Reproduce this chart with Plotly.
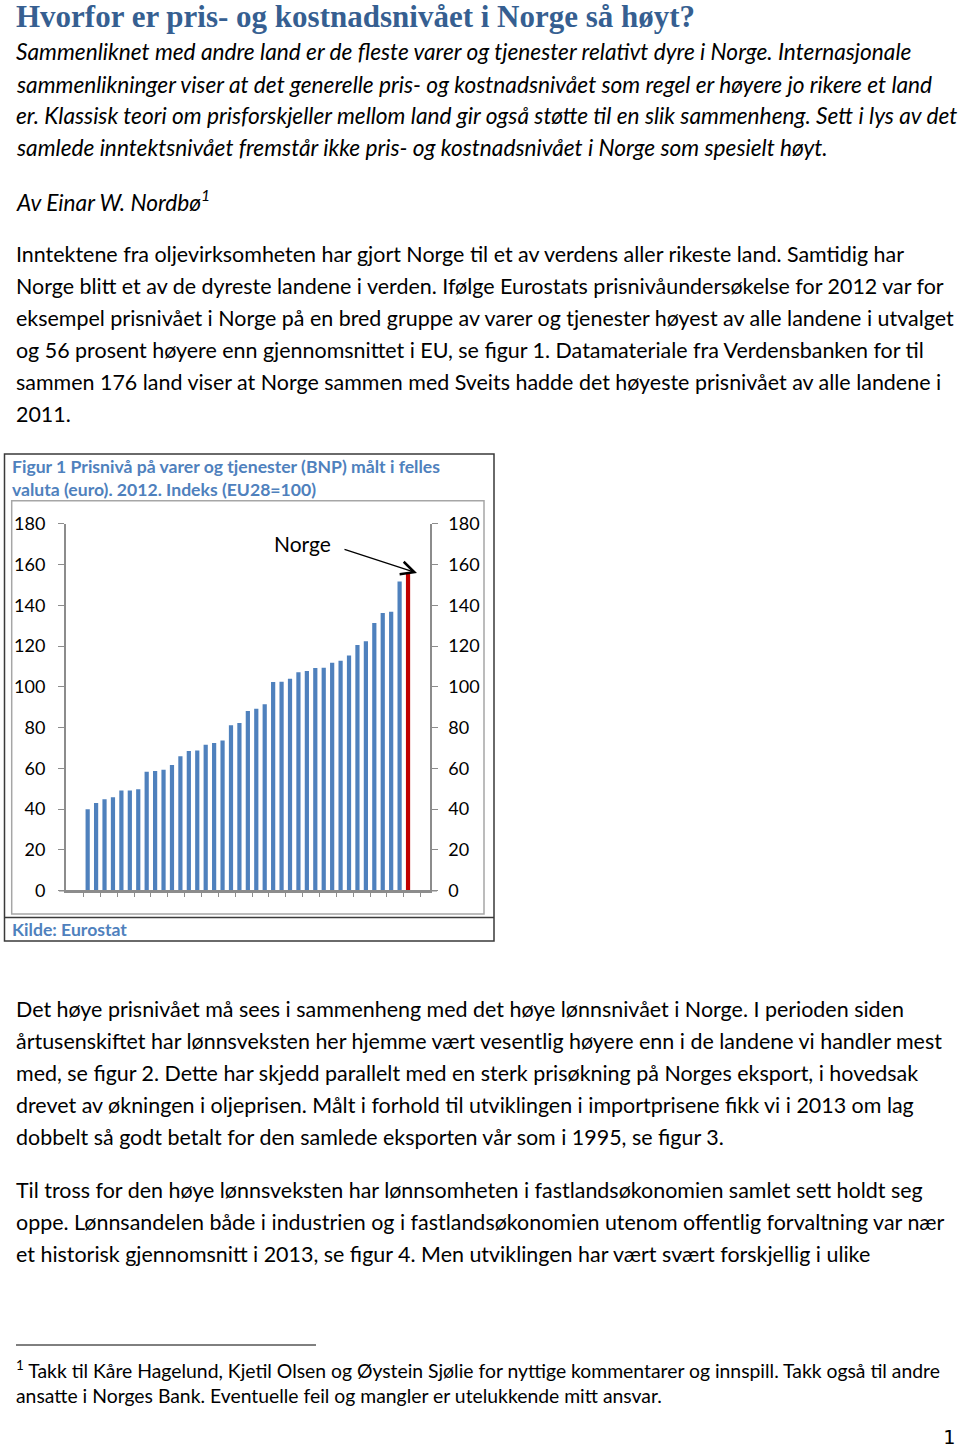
import plotly.graph_objects as go

W, H = 960, 1449


def px(x):
    return x / W


def py(y):
    return 1 - y / H


# ---------------- data ----------------
categories = [f"Land {i}" for i in range(1, 39)] + ["Norge"]
values = [40.0, 43.0, 44.8, 45.8, 49.2, 49.2, 49.7, 58.4, 58.7, 59.3,
          61.6, 65.9, 68.5, 68.8, 71.6, 72.4, 73.7, 81.2, 82.2, 88.1,
          89.3, 91.4, 102.3, 102.5, 104.0, 107.2, 107.7, 109.2, 109.4, 111.8,
          112.8, 115.4, 120.5, 122.3, 131.3, 136.2, 136.8, 151.7, 155.5]
y_ticks = [0, 20, 40, 60, 80, 100, 120, 140, 160, 180]
highlight = "Norge"

BLUE = "#4f81bd"
RED = "#c00000"
AXIS = "#8c8c8c"
HEAD = "#365f91"
FIGBLUE = "#4f81bd"
FONT = "Lato"

colors = [RED if c == highlight else BLUE for c in categories]

fig = go.Figure()
fig.add_trace(go.Bar(x=categories, y=values, marker_color=colors,
                     marker_line_width=0, showlegend=False, hoverinfo="x+y"))
fig.add_trace(go.Scatter(x=categories, y=values, yaxis="y2", mode="markers",
                         marker=dict(opacity=0), showlegend=False,
                         hoverinfo="skip"))

yax = dict(range=[0, 180], tickvals=y_ticks, ticks="outside", ticklen=6,
           tickcolor=AXIS, showline=True, linecolor=AXIS, linewidth=1.5,
           showgrid=False, zeroline=False, automargin=False,
           tickfont=dict(family=FONT, size=18, color="black"),
           domain=[py(890.7), py(523.7)], fixedrange=True)

fig.update_layout(
    width=W, height=H,
    margin=dict(l=0, r=0, t=0, b=0, pad=0, autoexpand=False),
    paper_bgcolor="white", plot_bgcolor="white",
    bargap=0.5,
    xaxis=dict(domain=[px(65.7), px(430)], showline=True, linecolor=AXIS,
               linewidth=1.5, ticks="outside", tickson="boundaries",
               ticklen=5, tickcolor=AXIS, showticklabels=False,
               showgrid=False, zeroline=False, automargin=False,
               fixedrange=True),
    yaxis=dict(**yax, side="left", ticklabelstandoff=9),
    yaxis2=dict(**yax, side="right", overlaying="y", anchor="x",
                ticklabelstandoff=7),
)

# ---------------- shapes (figure box, footnote rule) ----------------
shapes = [
    dict(type="rect", xref="paper", yref="paper", x0=px(4.5), x1=px(494),
         y0=py(941), y1=py(454), line=dict(color="#3a3a3a", width=1.5)),
    dict(type="line", xref="paper", yref="paper", x0=px(4.5), x1=px(494),
         y0=py(917.5), y1=py(917.5), line=dict(color="#3a3a3a", width=1.5)),
    dict(type="rect", xref="paper", yref="paper", x0=px(11.7), x1=px(484),
         y0=py(914), y1=py(500.7), line=dict(color="#a6a6a6", width=1.5)),
    dict(type="line", xref="paper", yref="paper", x0=px(16), x1=px(316),
         y0=py(1345), y1=py(1345), line=dict(color="black", width=1)),
    # short extension of the category axis line to the left (Excel style)
    dict(type="line", xref="paper", yref="paper", x0=px(59), x1=px(437),
         y0=py(890.7), y1=py(890.7), line=dict(color=AXIS, width=1.5)),
]
fig.update_layout(shapes=shapes)

ann = []


def txt(x, y, text, size=20, color="black", family=FONT, xanchor="left"):
    ann.append(dict(x=px(x), y=py(y), xref="paper", yref="paper",
                    text=text, showarrow=False, xanchor=xanchor,
                    yanchor="middle", align="left",
                    font=dict(family=family, size=size, color=color)))


# heading
txt(14, 16, "<b>Hvorfor er pris- og kostnadsnivået i Norge så høyt?</b>",
    size=31, color=HEAD, family="Liberation Serif")

intro = [
    "Sammenliknet med andre land er de fleste varer og tjenester relativt dyre i Norge. Internasjonale",
    "sammenlikninger viser at det generelle pris- og kostnadsnivået som regel er høyere jo rikere et land",
    "er. Klassisk teori om prisforskjeller mellom land gir også støtte til en slik sammenheng. Sett i lys av det",
    "samlede inntektsnivået fremstår ikke pris- og kostnadsnivået i Norge som spesielt høyt.",
]
for i, line in enumerate(intro):
    txt(14, 52 + 32 * i, f"<i>{line}</i>", size=22.7)

txt(14, 201, "<i>Av Einar W. Nordbø<sup>1</sup></i>", size=22.7)

para1 = [
    "Inntektene fra oljevirksomheten har gjort Norge til et av verdens aller rikeste land. Samtidig har",
    "Norge blitt et av de dyreste landene i verden. Ifølge Eurostats prisnivåundersøkelse for 2012 var for",
    "eksempel prisnivået i Norge på en bred gruppe av varer og tjenester høyest av alle landene i utvalget",
    "og 56 prosent høyere enn gjennomsnittet i EU, se figur 1. Datamateriale fra Verdensbanken for til",
    "sammen 176 land viser at Norge sammen med Sveits hadde det høyeste prisnivået av alle landene i",
    "2011.",
]
for i, line in enumerate(para1):
    txt(14, 254 + 32 * i, line, size=21.45)

# figure texts
txt(10, 466, "<b>Figur 1 Prisnivå på varer og tjenester (BNP) målt i felles</b>",
    size=17.6, color=FIGBLUE)
txt(10, 489, "<b>valuta (euro). 2012. Indeks (EU28=100)</b>", size=17.6,
    color=FIGBLUE)
txt(10, 929, "<b>Kilde: Eurostat</b>", size=17.6, color=FIGBLUE)
txt(302, 543, "Norge", size=21, xanchor="center")

# arrow pointing to Norway's bar
ann.append(dict(x=px(417), y=py(573), xref="paper", yref="paper", text="",
                showarrow=True, ax=-74, ay=-24, arrowhead=5, arrowsize=2,
                arrowwidth=1.3, arrowcolor="black"))

para2 = [
    "Det høye prisnivået må sees i sammenheng med det høye lønnsnivået i Norge. I perioden siden",
    "årtusenskiftet har lønnsveksten her hjemme vært vesentlig høyere enn i de landene vi handler mest",
    "med, se figur 2. Dette har skjedd parallelt med en sterk prisøkning på Norges eksport, i hovedsak",
    "drevet av økningen i oljeprisen. Målt i forhold til utviklingen i importprisene fikk vi i 2013 om lag",
    "dobbelt så godt betalt for den samlede eksporten vår som i 1995, se figur 3.",
]
for i, line in enumerate(para2):
    txt(14, 1009 + 32 * i, line, size=21.45)

para3 = [
    "Til tross for den høye lønnsveksten har lønnsomheten i fastlandsøkonomien samlet sett holdt seg",
    "oppe. Lønnsandelen både i industrien og i fastlandsøkonomien utenom offentlig forvaltning var nær",
    "et historisk gjennomsnitt i 2013, se figur 4. Men utviklingen har vært svært forskjellig i ulike",
]
for i, line in enumerate(para3):
    txt(14, 1190 + 32 * i, line, size=21.45)

txt(14, 1369, "<sup>1</sup> Takk til Kåre Hagelund, Kjetil Olsen og Øystein Sjølie for nyttige kommentarer og innspill. Takk også til andre",
    size=19.35)
txt(14, 1395, "ansatte i Norges Bank. Eventuelle feil og mangler er utelukkende mitt ansvar.",
    size=19.35)
txt(957, 1437, "1", size=20, family="DejaVu Sans Mono", xanchor="right")

fig.update_layout(annotations=ann)
fig.write_html("out.html",
               config={"displayModeBar": False},
               post_script="document.body.style.margin='0';"
                           "document.body.style.padding='0';")
